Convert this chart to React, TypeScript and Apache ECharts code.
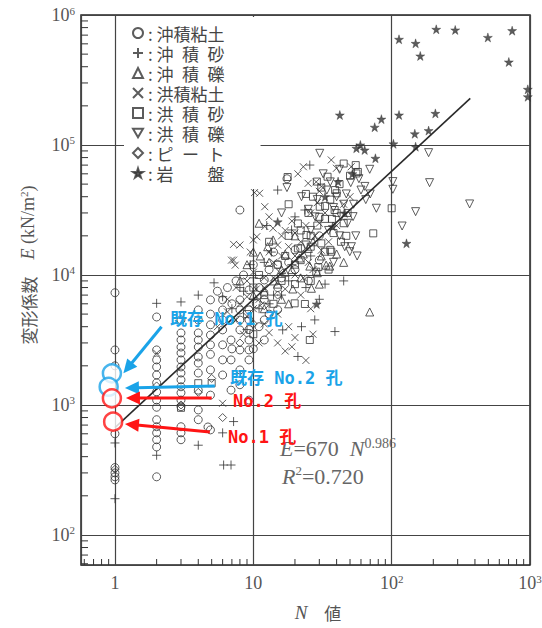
import React, { useEffect, useRef } from 'react';
import * as echarts from 'echarts';

// ---------- axis extents & tick marks ----------
const X_MIN = 0.568;
const X_MAX = 1000;
const Y_MIN = 58.7;
const Y_MAX = 1000000;
const xMinorTicks = [0.6, 0.7, 0.8, 0.9, 2, 3, 4, 5, 6, 7, 8, 9, 20, 30, 40, 50, 60, 70, 80, 90, 200, 300, 400, 500, 600, 700, 800, 900];
const yMinorTicks = [60, 70, 80, 90, 200, 300, 400, 500, 600, 700, 800, 900, 2000, 3000, 4000, 5000, 6000, 7000, 8000, 9000,
  20000, 30000, 40000, 50000, 60000, 70000, 80000, 90000, 200000, 300000, 400000, 500000, 600000, 700000, 800000, 900000];

// ---------- legend categories ----------
const seriesNames = ['沖積粘土', '沖積砂', '沖積礫', '洪積粘土', '洪積砂', '洪積礫', 'ピート', '岩盤'];
const legendLabels = [': 沖積粘土', ': 沖\u2002積\u2002砂', ': 沖\u2002積\u2002礫', ': 洪積粘土', ': 洪\u2002積\u2002砂', ': 洪\u2002積\u2002礫', ': ピ\u2002ー\u2002ト', ': 岩\u3000\u3000盤'];

// ---------- data [N, E (kN/m2)] ----------
const alluvialClay = [
  [1, 7300], [1, 2650], [1, 2000], [1, 600], [1, 330], [1, 300], [1, 280], [1, 265],
  [2, 4750], [2, 2650], [2, 2220], [2, 1960], [2, 1700], [2, 1480], [2, 1260], [2, 1090], [2, 960], [2, 770], [2, 680], [2, 610], [2, 540], [2, 475], [2, 280],
  [3, 4510], [3, 3580], [3, 3160], [3, 2790], [3, 2510], [3, 2220], [3, 1960], [3, 1760], [3, 1560], [3, 1380], [3, 1240], [3, 1090], [3, 970], [3, 680], [3, 610], [3, 540],
  [4, 5380], [4, 4510], [4, 3580], [4, 3160], [4, 2790], [4, 2340], [4, 2100], [4, 1760], [4, 1300], [4, 915], [4, 770],
  [4.9, 6430], [4.9, 5000], [4.9, 4140], [4.9, 3450], [4.9, 2900], [4.9, 2450], [4.9, 1860], [4.9, 1190], [4.9, 643], [4.7, 677],
  [6, 6430], [6, 5380], [6, 4510], [6, 3780], [6, 2900], [6, 2220], [6, 1700],
  [6.9, 4510], [6.9, 3160], [6.9, 2220], [6.9, 1300],
  [8, 31600], [8, 6430], [8, 5380], [8, 3780], [8, 2650], [8, 1860], [8, 1430],
  [9.3, 7670], [9.3, 5380], [9.3, 4510], [9.3, 3160], [9.3, 2650], [9.3, 2220], [9.3, 1090],
  [12, 9150], [12, 6430], [12, 4510], [12, 3160],
  [15, 12000], [15, 8000], [15, 5400],
  [17.5, 55000], [20, 15600], [20, 11000], [30, 20000], [30, 13000], [25, 9000],
  [5.5, 7500], [6.5, 8000], [7.5, 9000], [8.5, 10000], [10, 12000], [11, 8000], [13, 11000], [14, 15000], [16, 9500],
  [18, 12500], [22, 16000], [7, 6000], [10.5, 6000], [11, 4000], [13, 5000], [8, 4500], [9.3, 3800], [7, 2700], [10, 2700]
];
const alluvialSand = [
  [1, 510], [1, 190], [2, 6050], [2, 410], [3, 6200], [4, 490], [6, 610], [6.1, 345], [6.9, 345], [7.2, 745], [5.2, 8700],
  [16.3, 3780], [22.3, 4000], [38.9, 3670], [27.8, 4510], [21, 2360], [25.6, 70100], [23.6, 31600], [18.9, 22200],
  [10, 9500], [12, 12500], [13.5, 15000], [11, 5500], [9, 3800], [14, 7000], [18, 9000], [26, 14000], [30, 6500], [33, 8500],
  [45, 9000], [20, 28000], [9.5, 12000], [8.5, 7500], [12.5, 24000], [7, 5500], [15, 45000],
  [4, 7000], [6, 6800], [8, 8000], [10, 6500], [13, 6000], [16, 7000], [19, 12000], [24, 8000]
];
const alluvialGravel = [
  [35.7, 11700], [25.6, 11700], [21.6, 13500], [11.2, 14000], [12.7, 16500], [13.9, 18600], [69.4, 5190], [19.3, 7800],
  [26.3, 7900], [33.6, 11900], [29, 10400], [16, 11000], [22, 9500], [18, 6000], [10, 7000], [14, 9000], [9, 12000],
  [25, 16000], [45, 12500], [30, 8500], [40, 14500], [17, 14500], [8, 9000], [12, 5500], [20, 20000], [11, 25000],
  [12, 7500], [15, 8500], [17, 10500], [19, 11000], [23, 14500], [13, 12500], [10, 15000], [27, 18000], [31, 14000], [16, 6500]
];
const diluvialClay = [
  [11.1, 42500], [12.1, 33500], [24.9, 50700], [36.6, 76700], [39.9, 66200], [12.1, 23600], [13.9, 22900], [10, 18600],
  [7.2, 17200], [8, 17000], [10.6, 19700], [6.95, 13000], [7.4, 11900], [2, 2500], [6, 1030], [9, 9000], [10, 10500],
  [12, 8000], [14, 12500], [16, 14000], [18, 16500], [20, 10000], [22, 7000], [25, 12500], [28, 20000], [30, 25000],
  [33, 30000], [15, 5000], [18, 4000], [20, 3300], [12, 4200], [9, 4800], [8, 6000], [11, 6500], [14, 9500], [17, 7800],
  [26, 5500], [31, 15500], [35, 18000], [45, 35000], [50, 40000], [40, 24000], [22, 18000], [19, 26000], [16, 20000],
  [17, 2600], [19, 2800], [24, 2200], [27, 3500], [30, 44000], [21, 60000], [23, 68000], [13, 28000], [9.5, 15000],
  [7.5, 8000], [6.5, 6500], [51, 68000], [28.5, 52000], [31, 48000], [10.2, 43000], [7.2, 13000],
  [5.5, 4000], [6.5, 5200], [7.5, 4500], [8.5, 3500], [10, 5500], [11, 3000], [13, 3600], [15, 3000], [9, 6800],
  [10.5, 7800], [12, 9500], [13, 15000], [15, 17000], [17, 22000], [20, 21000], [24, 24000], [26, 30000], [29, 36000],
  [20, 14000], [23, 9500], [27, 11000], [15.5, 10500]
];
const diluvialSand = [
  [17.7, 56700], [34.4, 57000], [55.6, 60400], [28.8, 52300], [31, 47000], [40, 42500], [30.2, 33500], [38.7, 31600],
  [33, 27000], [21, 24900], [24.2, 20300], [73.6, 20900], [21, 16000], [32.9, 15100], [36.6, 15100], [29.5, 11500],
  [23.6, 5980], [25.6, 3160], [19.9, 6050], [4, 1470], [5, 1470], [3, 950], [100, 32600], [55, 70000], [57, 62000],
  [31, 17500], [36, 15600], [28.5, 10600], [45, 72000], [27, 40000], [25, 30000], [45, 25000], [18, 35000], [15, 12000],
  [12, 7000], [10, 8000], [13, 18000], [20, 12000], [26, 9000], [35, 11000], [9, 5000], [10, 3500], [42, 50000],
  [48, 30000], [16, 9000], [22, 13000], [38, 21000], [14, 6000], [11, 10000], [24, 42000], [50, 58000],
  [18, 20000], [22, 22000], [26, 20000], [29, 24000], [33, 34000], [36, 38000], [39, 45000], [30, 28000], [40, 30000],
  [43, 18000], [47, 20000], [20, 8500], [17, 14000], [26, 16500], [37, 27000]
];
const diluvialGravel = [
  [30.2, 86300], [185, 87300], [69.4, 65000], [188, 51300], [102, 52300], [102, 45600], [50.6, 51300], [22.3, 40000],
  [366, 35200], [77.5, 32600], [149, 30700], [52.6, 28100], [119, 23800], [45.8, 16500], [51.2, 16500], [56.3, 14000],
  [49.8, 15100], [17.5, 47000], [40, 40000], [45, 35000], [60, 45000], [35, 22000], [42, 20000], [28, 28000], [48, 25000],
  [32, 60000], [16, 30000], [55, 20000], [38, 12500], [65, 38000], [24, 17000],
  [25, 32000], [29, 38000], [34, 45000], [38, 33000], [43, 28000], [47, 42000], [53, 35000], [58, 55000], [64, 48000],
  [70, 42000], [36, 52000], [42, 65000], [26, 22000]
];
const peat = [[1, 320], [2, 1400], [3, 1000], [4, 1250], [5, 1600], [6, 800], [8, 3000], [10, 4200], [12, 5800], [15, 7000]];
const bedrock = [
  [210, 776000], [288, 767000], [113, 650000], [149, 605000], [161, 484000], [496, 672000], [743, 758000], [703, 435000],
  [964, 268000], [964, 235000], [42.2, 170000], [84.3, 158000], [75.4, 137000], [113, 170000], [207, 175000], [147, 122000],
  [185, 129000], [59.4, 100000], [55.6, 94400], [63.8, 91500], [103, 102000], [149, 97000], [76.3, 79000], [41, 52300],
  [128, 17500], [37.5, 23600], [45.8, 30000], [15, 25600], [28.7, 5980], [33, 40000], [52, 60000]
];
// regression E = 670 N^0.986, end points
const regression = [[1, 670], [370, 228000]];
// borehole annotation points
const existingHoles = [[0.95, 1750], [0.9, 1380]];
const newHoles = [[0.95, 1125], [0.97, 744]];
// arrows: [tailN, tailE, headN, headE, colorIndex(0 blue, 1 red)]
const arrows = [
  [2.17, 4000, 1.15, 1750, 0],
  [5.27, 1400, 1.18, 1350, 0],
  [5.0, 1130, 1.2, 1130, 1],
  [4.85, 620, 1.18, 714, 1]
];

const BLUE = '#1aa3e8';
const RED = '#ff1414';
const INK = '#333';
const SERIF = "'Liberation Serif','DejaVu Serif',serif";
const CJK = "'Noto Sans CJK JP',sans-serif";
const MONO = "'DejaVu Sans Mono','Noto Sans CJK JP',monospace";

const PLUS = 'path://M5,0L5,10M0,5L10,5';
const CROSS = 'path://M0,0L10,10M10,0L0,10';
const STAR = 'path://M50,0L61,35L98,35L68,57L79,91L50,70L21,91L32,57L2,35L39,35Z';
const DOWN_TRI = 'path://M0,0L10,0L5,8.66Z';

const hollow = { color: 'rgba(255,255,255,0)', borderColor: INK, borderWidth: 1 };

function decadeLabel(v: number, plainBelow: boolean) {
  const l = Math.log10(v);
  const r = Math.round(l);
  if (Math.abs(l - r) > 1e-6) return '';
  if (plainBelow && r === 0) return '{b|1}';
  if (plainBelow && r === 1) return '{b|10}';
  return '{b|10}{s|' + r + '}';
}

const labelRich = {
  b: { fontFamily: SERIF, fontSize: 18, color: '#555', lineHeight: 20 },
  s: { fontFamily: SERIF, fontSize: 11, color: '#555', lineHeight: 11, verticalAlign: 'top' }
};

export default function App() {
  const ref = useRef<HTMLDivElement>(null);
  useEffect(() => {
    if (!ref.current) return;
    const chart = echarts.init(ref.current, undefined, { renderer: 'svg' });
    const scatter = (name: string, data: number[][], symbol: string, size: number, extra: any = {}) => ({
      name, type: 'scatter', data, symbol, symbolSize: size, z: 4,
      itemStyle: hollow, emphasis: { disabled: true }, ...extra
    });
    const option: any = {
      animation: false,
      backgroundColor: '#fff',
      grid: { left: 81, right: 12, top: 15, bottom: 63, show: true, borderColor: '#222', borderWidth: 1.5, backgroundColor: 'transparent', outerBoundsMode: 'none' },
      xAxis: {
        type: 'log', logBase: 10, min: X_MIN, max: X_MAX,
        axisLine: { show: false }, axisTick: { show: false },
        splitLine: { show: true, lineStyle: { color: '#444', width: 1.2 } },
        axisLabel: { margin: 8, showMaxLabel: true, showMinLabel: true, formatter: (v: number) => decadeLabel(v, true), rich: labelRich }
      },
      yAxis: {
        type: 'log', logBase: 10, min: Y_MIN, max: Y_MAX,
        axisLine: { show: false }, axisTick: { show: false },
        splitLine: { show: true, lineStyle: { color: '#444', width: 1.2 } },
        axisLabel: { margin: 6, showMaxLabel: true, formatter: (v: number) => decadeLabel(v, false), rich: labelRich }
      },
      legend: {
        data: seriesNames.map((n) => (n === '洪積礫' ? { name: n, icon: DOWN_TRI } : n)),
        orient: 'vertical', left: 124, top: 17,
        padding: [6, 36, 6, 8], itemGap: 0, itemWidth: 10, itemHeight: 10,
        backgroundColor: '#fff', selectedMode: false,
        formatter: (n: string) => legendLabels[seriesNames.indexOf(n)],
        textStyle: { fontFamily: CJK, fontSize: 17, color: '#444', lineHeight: 20 }
      },
      graphic: [
        {
          type: 'text', x: 28, y: 265, rotation: Math.PI / 2,
          style: {
            text: '{c|変形係数}{c|\u3000}{i|E}{r| (kN/m}{s|2}{r|)}', align: 'center', verticalAlign: 'middle',
            rich: {
              c: { fontFamily: CJK, fontSize: 17, fill: '#555', lineHeight: 20 },
              i: { fontFamily: SERIF, fontStyle: 'italic', fontSize: 18, fill: '#555', lineHeight: 20 },
              r: { fontFamily: SERIF, fontSize: 18, fill: '#555', lineHeight: 20 },
              s: { fontFamily: SERIF, fontSize: 11, fill: '#555', lineHeight: 11, verticalAlign: 'top' }
            }
          }
        },
        {
          type: 'text', x: 318, y: 612,
          style: {
            text: '{i|N}{c|\u3000値}', align: 'center', verticalAlign: 'middle',
            rich: {
              i: { fontFamily: SERIF, fontStyle: 'italic', fontSize: 19, fill: '#555', lineHeight: 22 },
              c: { fontFamily: CJK, fontSize: 17, fill: '#555', lineHeight: 22 }
            }
          }
        },
        {
          type: 'text', x: 280, y: 448, z: 5,
          style: {
            text: '{i|E}{r|=670  }{i|N}{s|0.986}', align: 'left', verticalAlign: 'middle',
            rich: {
              i: { fontFamily: SERIF, fontStyle: 'italic', fontSize: 22, fill: '#666', lineHeight: 24 },
              r: { fontFamily: SERIF, fontSize: 22, fill: '#666', lineHeight: 24 },
              s: { fontFamily: SERIF, fontSize: 14, fill: '#666', lineHeight: 14, verticalAlign: 'top' }
            }
          }
        },
        {
          type: 'text', x: 282, y: 476, z: 5,
          style: {
            text: '{i|R}{s|2}{r|=0.720}', align: 'left', verticalAlign: 'middle',
            rich: {
              i: { fontFamily: SERIF, fontStyle: 'italic', fontSize: 22, fill: '#666', lineHeight: 24 },
              r: { fontFamily: SERIF, fontSize: 22, fill: '#666', lineHeight: 24 },
              s: { fontFamily: SERIF, fontSize: 13, fill: '#666', lineHeight: 13, verticalAlign: 'top' }
            }
          }
        },
        { type: 'text', x: 170, y: 319, z: 20, style: { text: '既存 No.1 孔', fill: BLUE, font: `bold 17px ${MONO}`, verticalAlign: 'middle' } },
        { type: 'text', x: 230, y: 378, z: 20, style: { text: '既存 No.2 孔', fill: BLUE, font: `bold 17px ${MONO}`, verticalAlign: 'middle' } },
        { type: 'text', x: 233, y: 401, z: 20, style: { text: 'No.2 孔', fill: RED, font: `bold 17px ${MONO}`, verticalAlign: 'middle' } },
        { type: 'text', x: 228, y: 437, z: 20, style: { text: 'No.1 孔', fill: RED, font: `bold 17px ${MONO}`, verticalAlign: 'middle' } }
      ],
      series: [
        scatter('沖積粘土', alluvialClay, 'circle', 8),
        scatter('沖積砂', alluvialSand, PLUS, 9),
        scatter('沖積礫', alluvialGravel, 'triangle', 8),
        scatter('洪積粘土', diluvialClay, CROSS, 7),
        scatter('洪積砂', diluvialSand, 'rect', 7),
        scatter('洪積礫', diluvialGravel, 'triangle', 8, { symbolRotate: 180 }),
        scatter('ピート', peat, 'diamond', 8),
        scatter('岩盤', bedrock, STAR, 9, { itemStyle: { color: INK, borderColor: INK, borderWidth: 0.5 } }),
        {
          name: 'regression', type: 'line', data: regression, symbol: 'none', z: 5, silent: true,
          lineStyle: { color: '#2a2a2a', width: 1.6 }
        },
        {
          name: 'yMinorTicks', type: 'custom', silent: true, clip: false, z: 3,
          data: yMinorTicks.map((v) => [X_MIN, v]),
          renderItem: (_p: any, api: any) => {
            const p = api.coord([api.value(0), api.value(1)]);
            return { type: 'line', shape: { x1: p[0], y1: p[1], x2: p[0] + 7, y2: p[1] }, style: { stroke: INK, lineWidth: 1 } };
          }
        },
        {
          name: 'xMinorTicks', type: 'custom', silent: true, clip: false, z: 3,
          data: xMinorTicks.map((v) => [v, Y_MIN]),
          renderItem: (_p: any, api: any) => {
            const p = api.coord([api.value(0), api.value(1)]);
            return { type: 'line', shape: { x1: p[0], y1: p[1], x2: p[0], y2: p[1] - 6 }, style: { stroke: INK, lineWidth: 1 } };
          }
        },
        {
          name: 'existing holes', type: 'scatter', data: existingHoles, symbol: 'circle', symbolSize: 18, z: 12, silent: true,
          itemStyle: { color: '#fff', borderColor: BLUE, borderWidth: 2.5 }
        },
        {
          name: 'new holes', type: 'scatter', data: newHoles, symbol: 'circle', symbolSize: 18, z: 12, silent: true,
          itemStyle: { color: '#fff', borderColor: RED, borderWidth: 2.5 }
        },
        {
          name: 'arrows', type: 'custom', silent: true, clip: false, z: 13,
          data: arrows,
          renderItem: (_p: any, api: any) => {
            const a = api.coord([api.value(0), api.value(1)]);
            const b = api.coord([api.value(2), api.value(3)]);
            const color = api.value(4) === 0 ? BLUE : RED;
            const dx = b[0] - a[0];
            const dy = b[1] - a[1];
            const len = Math.hypot(dx, dy) || 1;
            const ux = dx / len;
            const uy = dy / len;
            const hl = 14;
            const hw = 6.5;
            const bx = b[0] - ux * hl;
            const by = b[1] - uy * hl;
            return {
              type: 'group',
              children: [
                { type: 'line', shape: { x1: a[0], y1: a[1], x2: bx + ux * 2, y2: by + uy * 2 }, style: { stroke: color, lineWidth: 3 } },
                { type: 'polygon', shape: { points: [[b[0], b[1]], [bx - uy * hw, by + ux * hw], [bx + uy * hw, by - ux * hw]] }, style: { fill: color } }
              ]
            };
          }
        }
      ]
    };
    chart.setOption(option);
    return () => chart.dispose();
  }, []);
  return <div ref={ref} style={{ position: 'fixed', left: 0, top: 0, width: 542, height: 628, background: '#fff' }} />;
}
